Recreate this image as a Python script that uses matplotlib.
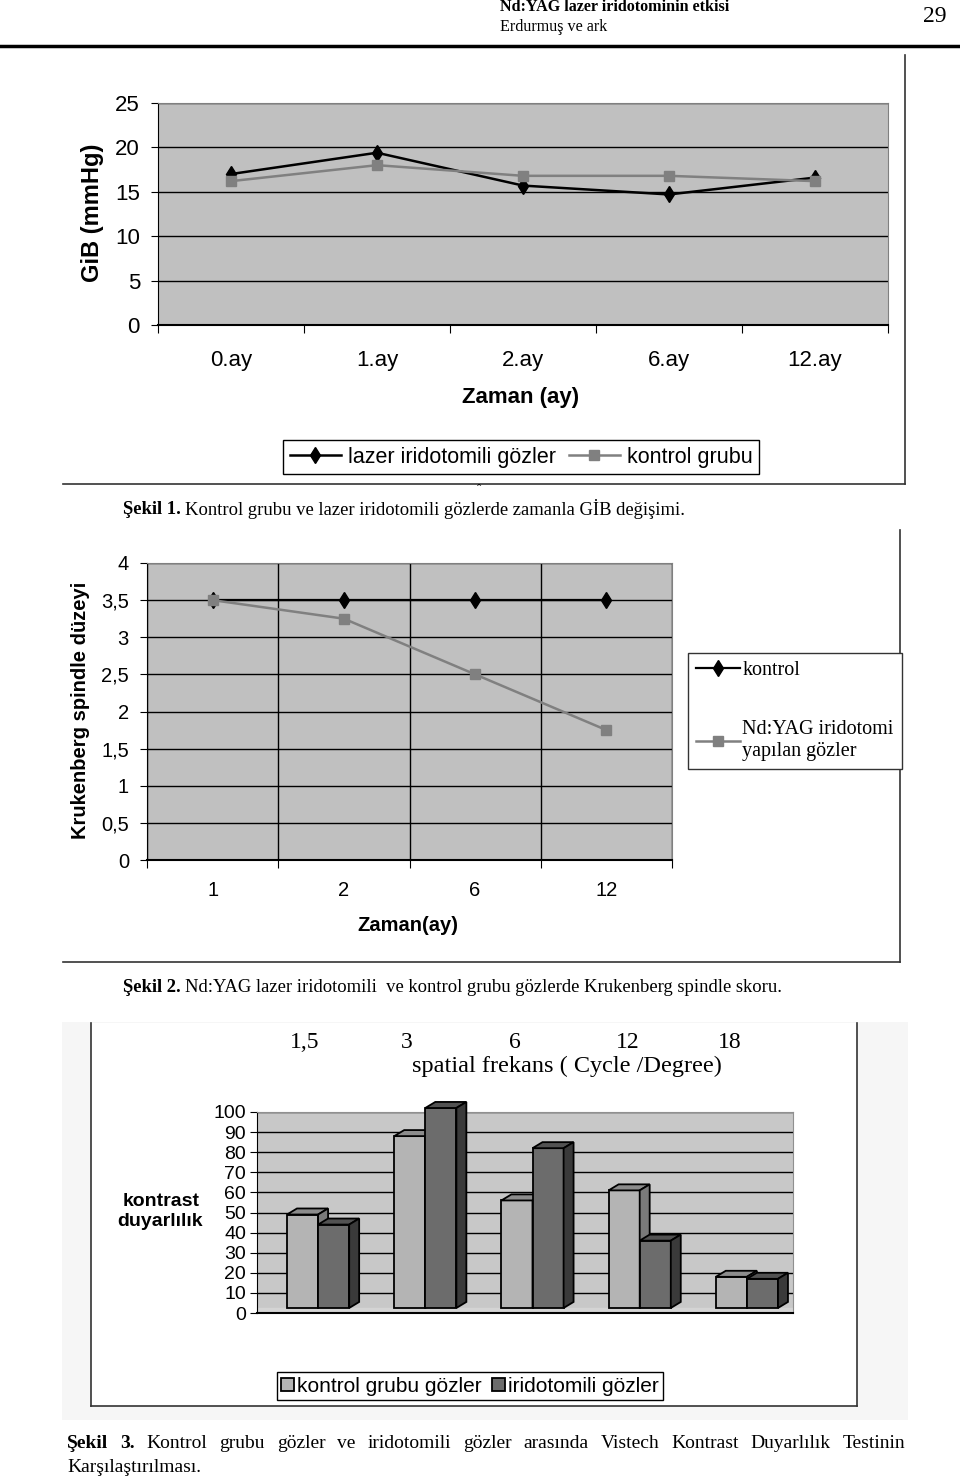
import matplotlib
matplotlib.use('Agg')
import matplotlib.pyplot as plt
from matplotlib.lines import Line2D
from matplotlib.patches import Polygon, Rectangle
import numpy as np

W, H = 960, 1477

# Şekil 1: GİB (mmHg) over time
months1 = ['0.ay', '1.ay', '2.ay', '6.ay', '12.ay']
lazer_gib = [17.0, 19.4, 15.7, 14.7, 16.6]
kontrol_gib = [16.2, 18.0, 16.8, 16.8, 16.2]

# Şekil 2: Krukenberg spindle level
months2 = ['1', '2', '6', '12']
kontrol_ks = [3.5, 3.5, 3.5, 3.5]
ndyag_ks = [3.5, 3.25, 2.5, 1.75]

# Şekil 3: contrast sensitivity by spatial frequency
freqs = ['1,5', '3', '6', '12', '18']
kontrol_cs = [49, 88, 56, 61, 18]
irido_cs = [44, 102, 82, 36, 17]

SANS = ['Liberation Sans', 'DejaVu Sans']
SERIF = ['Liberation Serif', 'DejaVu Serif']

fig = plt.figure(figsize=(W / 100, H / 100), dpi=100)
renderer = fig.canvas.get_renderer()


def fx(x):
    return x / W


def fy(y):
    return 1 - y / H


def box(x0, y0, x1, y1):
    return [x0 / W, 1 - y1 / H, (x1 - x0) / W, (y1 - y0) / H]


def line(xs, ys, lw=1.2, color='#333333'):
    fig.add_artist(Line2D([fx(v) for v in xs], [fy(v) for v in ys], lw=lw, color=color))


def text(x, y, s, **kw):
    kw.setdefault('va', 'center')
    return fig.text(fx(x), fy(y), s, **kw)


def caption(x, y, bold, rest, size=13.4):
    t = text(x, y, bold, family=SERIF, weight='bold', size=size)
    w = t.get_window_extent(renderer).width
    text(x + w + 4, y, rest, family=SERIF, size=size)


def justified(x0, x1, y, words, size=14, bold_first=2):
    arts = []
    for k, wd in enumerate(words):
        arts.append(text(x0, y, wd, family=SERIF, size=size,
                         weight='bold' if k < bold_first else 'normal'))
    widths = [a.get_window_extent(renderer).width for a in arts]
    gap = (x1 - x0 - sum(widths)) / (len(words) - 1)
    pos = x0
    for a, w in zip(arts, widths):
        a.set_x(fx(pos))
        pos += w + gap


# ---- page header ----
text(500, 7, 'Nd:YAG lazer iridotominin etkisi', family=SERIF, weight='bold', size=11.6)
text(500, 27, 'Erdurmuş ve ark', family=SERIF, size=11.6)
text(946, 17, '29', family=SERIF, size=17, ha='right')
line([0, 958], [46, 46], lw=2.5, color='black')

# ---- Şekil 1 ----
line([905, 905], [55, 484])
line([63, 905], [484, 484])

ax1 = fig.add_axes(box(158, 103, 888, 325))
ax1.set_facecolor('#c0c0c0')
x1 = np.arange(len(months1))
ax1.plot(x1, lazer_gib, color='black', lw=1.8, marker='d', ms=8,
         label='lazer iridotomili gözler', zorder=3)
ax1.plot(x1, kontrol_gib, color='#808080', lw=1.8, marker='s', ms=7,
         label='kontrol grubu', zorder=4)
ax1.set_xlim(-0.5, len(months1) - 0.5)
ax1.set_ylim(0, 25)
ax1.set_yticks(range(0, 26, 5))
ax1.yaxis.grid(True, color='black', lw=1)
ax1.set_axisbelow(True)
ax1.set_xticks(np.arange(-0.5, len(months1), 1))
ax1.set_xticklabels([])
ax1.set_xticks(x1, minor=True)
ax1.set_xticklabels(months1, minor=True)
ax1.tick_params(axis='x', which='major', length=6, direction='out')
ax1.tick_params(axis='x', which='minor', length=0, pad=18, labelsize=16)
ax1.tick_params(axis='y', length=5, pad=8, labelsize=16)
for lab in ax1.get_xticklabels(minor=True) + ax1.get_yticklabels():
    lab.set_family(SANS)
for s in ('top', 'right'):
    ax1.spines[s].set_color('#808080')
ax1.spines['bottom'].set_linewidth(1.5)

text(92, 213, 'GiB (mmHg)', family=SANS, weight='bold', size=17, rotation=90, ha='center')
text(521, 398, 'Zaman (ay)', family=SANS, weight='bold', size=16, ha='center')
fig.legend(*ax1.get_legend_handles_labels(), loc='center', bbox_to_anchor=(fx(521), fy(457)),
           ncol=2, frameon=True, fancybox=False, edgecolor='black', framealpha=1,
           prop={'family': SANS, 'size': 15.5}, handlelength=2.4, columnspacing=0.6,
           handletextpad=0.3, borderpad=0.3, borderaxespad=0)

text(479, 490, 'ˆ', family=SERIF, size=9, ha='center')
caption(123, 509, 'Şekil 1.', 'Kontrol grubu ve lazer iridotomili gözlerde zamanla GİB değişimi.')

# ---- Şekil 2 ----
line([900, 900], [530, 962])
line([63, 900], [962, 962])

ax2 = fig.add_axes(box(147, 563, 672, 860))
ax2.set_facecolor('#c0c0c0')
x2 = np.arange(len(months2))
ax2.plot(x2, kontrol_ks, color='black', lw=1.6, marker='d', ms=8, label='kontrol', zorder=3)
ax2.plot(x2, ndyag_ks, color='#808080', lw=1.8, marker='s', ms=7,
         label='Nd:YAG iridotomi\nyapılan gözler', zorder=4)
ax2.set_xlim(-0.5, len(months2) - 0.5)
ax2.set_ylim(0, 4)
yt2 = np.arange(0, 4.01, 0.5)
ax2.set_yticks(yt2)
ax2.set_yticklabels([f'{v:g}'.replace('.', ',') for v in yt2])
ax2.set_xticks(np.arange(-0.5, len(months2), 1))
ax2.set_xticklabels([])
ax2.set_xticks(x2, minor=True)
ax2.set_xticklabels(months2, minor=True)
ax2.grid(True, which='major', color='black', lw=1)
ax2.set_axisbelow(True)
ax2.tick_params(axis='x', which='major', length=6, direction='out')
ax2.tick_params(axis='x', which='minor', length=0, pad=15, labelsize=14.5)
ax2.tick_params(axis='y', length=5, pad=8, labelsize=14.5)
for lab in ax2.get_xticklabels(minor=True) + ax2.get_yticklabels():
    lab.set_family(SANS)
for s in ('top', 'right'):
    ax2.spines[s].set_color('#808080')
ax2.spines['bottom'].set_linewidth(1.5)

text(80, 710, 'Krukenberg spindle düzeyi', family=SANS, weight='bold', size=14.5,
     rotation=90, ha='center')
text(408, 925, 'Zaman(ay)', family=SANS, weight='bold', size=14.5, ha='center')
fig.legend(*ax2.get_legend_handles_labels(), loc='upper left', bbox_to_anchor=(fx(688), fy(653)),
           frameon=True, fancybox=False, edgecolor='#333333', framealpha=1,
           prop={'family': SERIF, 'size': 14.5}, handlelength=2.2, handletextpad=0.1,
           labelspacing=2.0, borderpad=0.4, borderaxespad=0)

caption(123, 988, 'Şekil 2.', 'Nd:YAG lazer iridotomili  ve kontrol grubu gözlerde Krukenberg spindle skoru.')

# ---- Şekil 3 ----
fig.add_artist(Rectangle((fx(62), fy(1420)), fx(908) - fx(62), fy(1022) - fy(1420),
                         transform=fig.transFigure, fc='#f6f6f6', ec='none', zorder=0))
fig.add_artist(Rectangle((fx(91), fy(1406)), fx(857) - fx(91), fy(1023) - fy(1406),
                         transform=fig.transFigure, fc='white', ec='none', zorder=0))
line([91, 91], [1023, 1406])
line([857, 857], [1023, 1406])
line([91, 857], [1406, 1406])

for lab, xp in zip(freqs, [305, 407, 515, 628, 730]):
    text(xp, 1043, lab, family=SERIF, size=17, ha='center')
text(567, 1066, 'spatial frekans ( Cycle /Degree)', family=SERIF, size=17.5, ha='center')
text(161, 1201, 'kontrast', family=SANS, weight='bold', size=14, ha='center')
text(160, 1222, 'duyarlılık', family=SANS, weight='bold', size=14, ha='center')

ax3 = fig.add_axes(box(257, 1112, 793, 1313))
ax3.set_facecolor('#c8c8c8')
ax3.set_xlim(-0.5, len(freqs) - 0.5)
ax3.set_ylim(0, 100)
ax3.set_yticks(range(0, 101, 10))
ax3.set_xticks([])
ax3.yaxis.grid(True, color='black', lw=1)
ax3.set_axisbelow(True)
ax3.tick_params(axis='y', length=5, pad=3, labelsize=14)
for lab in ax3.get_yticklabels():
    lab.set_family(SANS)
for s in ('top', 'right'):
    ax3.spines[s].set_color('#909090')
ax3.spines['bottom'].set_linewidth(1.5)
ax3.axhspan(0, 2.5, color='#d4d4d4', zorder=0.5)

BW, DX, DY, FLOOR = 0.29, 0.093, 3.0, 2.5
KCOL = ('#b4b4b4', '#8c8c8c', '#7a7a7a')
ICOL = ('#6c6c6c', '#525252', '#3a3a3a')
for i, (kv, iv) in enumerate(zip(kontrol_cs, irido_cs)):
    for x0, v, cols, lab in ((i - 0.22, kv, KCOL, 'kontrol grubu gözler'),
                             (i + 0.07, iv, ICOL, 'iridotomili gözler')):
        ax3.bar(x0, v - FLOOR, width=BW, bottom=FLOOR, align='edge', color=cols[0],
                edgecolor='black', lw=1.3, clip_on=False, zorder=3,
                label=lab if i == 0 else None)
        ax3.add_patch(Polygon([(x0, v), (x0 + BW, v), (x0 + BW + DX, v + DY), (x0 + DX, v + DY)],
                              closed=True, fc=cols[1], ec='black', lw=1.3, clip_on=False, zorder=3))
        ax3.add_patch(Polygon([(x0 + BW, FLOOR), (x0 + BW + DX, FLOOR + DY),
                               (x0 + BW + DX, v + DY), (x0 + BW, v)],
                              closed=True, fc=cols[2], ec='black', lw=1.3, clip_on=False, zorder=3))

fig.legend(*ax3.get_legend_handles_labels(), loc='center', bbox_to_anchor=(fx(470), fy(1386)),
           ncol=2, frameon=True, fancybox=False, edgecolor='black', framealpha=1,
           prop={'family': SANS, 'size': 15}, handlelength=0.6, handleheight=0.6,
           columnspacing=0.5, handletextpad=0.15, borderpad=0.2, borderaxespad=0)

justified(67, 905, 1443, ['Şekil', '3.', 'Kontrol', 'grubu', 'gözler', 've', 'iridotomili', 'gözler',
                          'arasında', 'Vistech', 'Kontrast', 'Duyarlılık', 'Testinin'], size=14)
text(67, 1467, 'Karşılaştırılması.', family=SERIF, size=14)

fig.savefig('out.png', dpi=100)
